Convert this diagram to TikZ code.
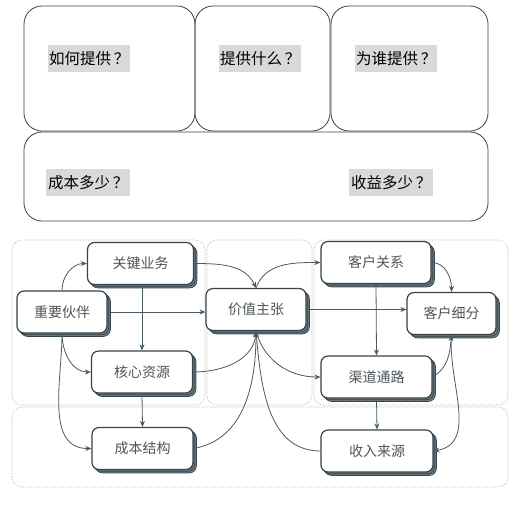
\documentclass[tikz,border=0pt]{standalone}
\usepackage{fontspec}
\newfontfamily\cjk{Noto Sans CJK SC}
\usetikzlibrary{arrows.meta,shadows}

\definecolor{edgegray}{HTML}{4A5A62}
\definecolor{boxline}{HTML}{36434A}
\definecolor{layergray}{HTML}{6E7C82}
\definecolor{txtgray}{HTML}{4D555A}
\definecolor{regiongray}{HTML}{A8A8A8}
\definecolor{markgray}{HTML}{D9D9D9}

\begin{document}
\begin{tikzpicture}[x=1pt, y=1pt,
    qbox/.style={rectangle, draw=black!75, line width=0.8pt, rounded corners=18pt, inner sep=0pt},
    ask/.style={anchor=west, fill=markgray, inner xsep=1pt, minimum height=27pt, font=\cjk\fontsize{15.5}{17}\selectfont},
    region/.style={draw=regiongray, densely dotted, line width=0.6pt, rounded corners=10pt},
    block/.style={rectangle, draw=boxline, line width=1.2pt, fill=white, rounded corners=7pt,
        minimum width=106pt, minimum height=42pt, text=txtgray, font=\cjk\fontsize{14}{16}\selectfont,
        double copy shadow={shadow xshift=1.7pt, shadow yshift=-1.7pt, fill=layergray, draw=boxline, line width=0.7pt}},
    link/.style={-{Stealth[length=6pt, width=5pt]}, draw=edgegray, line width=0.8pt}
]
\useasboundingbox (0,0) rectangle (518,-504);

% upper sheet: questions
\node[qbox, minimum width=171pt, minimum height=125pt] (how) at (109.5,-68.5) {};
\node[qbox, minimum width=135pt, minimum height=125pt] (what) at (262.5,-68.5) {};
\node[qbox, minimum width=157pt, minimum height=125pt] (whom) at (409.5,-68.5) {};
\node[qbox, minimum width=464pt, minimum height=89pt] (money) at (256,-176.5) {};

\node[ask] (howq) at (48,-58.5) {如何提供\,？};
\node[ask] (whatq) at (219,-58.5) {提供什么\,？};
\node[ask] (whomq) at (355,-58.5) {为谁提供\,？};
\node[ask, inner xsep=2pt] (costq) at (46,-182.5) {成本多少\,？};
\node[ask, inner xsep=2pt] (incomeq) at (349,-182.5) {收益多少\,？};

% lower sheet: canvas regions
\draw[region] (12,-240) rectangle (205,-405);
\draw[region] (207,-240) rectangle (312,-405);
\draw[region] (314,-240) rectangle (508,-405);
\draw[region] (12,-407) rectangle (508,-487);

% building blocks
\node[block] (keyact) at (140.5,-263.5) {关键业务};
\node[block, minimum width=90pt] (partner) at (62,-312) {重要伙伴};
\node[block, minimum width=101pt] (resource) at (142,-372) {核心资源};
\node[block, minimum width=101pt] (cost) at (142.5,-448.5) {成本结构};
\node[block, minimum width=100pt] (vp) at (256,-309.5) {价值主张};
\node[block, minimum width=110pt] (cr) at (376,-262.5) {客户关系};
\node[block, minimum width=89pt] (cs) at (451.5,-313.5) {客户细分};
\node[block, minimum width=111pt] (ch) at (376.5,-377) {渠道通路};
\node[block, minimum width=112pt] (rev) at (377,-451) {收入来源};

% connectors
\draw[link] (partner.north) to[out=90, in=180] (keyact.west);
\draw[link] (partner.east) -- (partner.east -| vp.west);
\draw[link] (partner.south) to[out=-90, in=180] (resource.west);
\draw[link] (partner.south) to[out=-90, in=180] (cost.west);
\draw[link] (resource.north |- keyact.south) -- (resource.north);
\draw[link] (resource.south) -- (cost.north);
\draw[link] (keyact.east) to[out=0, in=115] (vp.north);
\draw[link] (resource.east) to[out=0, in=-95] (vp.south);
\draw[link] (cost.east) to[out=10, in=-90] (vp.south);
\draw[link] (rev.west) to[out=180, in=-85] (vp.south);
\draw[link] (vp.south) to[out=-75, in=180] (ch.west);
\draw[link] (vp.north) to[out=70, in=180] (cr.west);
\draw[link] (vp.east) -- (vp.east -| cs.west);
\draw[link] (cr.south) -- (ch.north);
\draw[link] (cr.east) to[out=0, in=90] (cs.north);
\draw[link] (ch.south) -- (rev.north);
\draw[link] (ch.east) to[out=30, in=-95] (cs.south);
\draw[link] (cs.south) to[out=-95, in=10] (rev.east);

\end{tikzpicture}
\end{document}
